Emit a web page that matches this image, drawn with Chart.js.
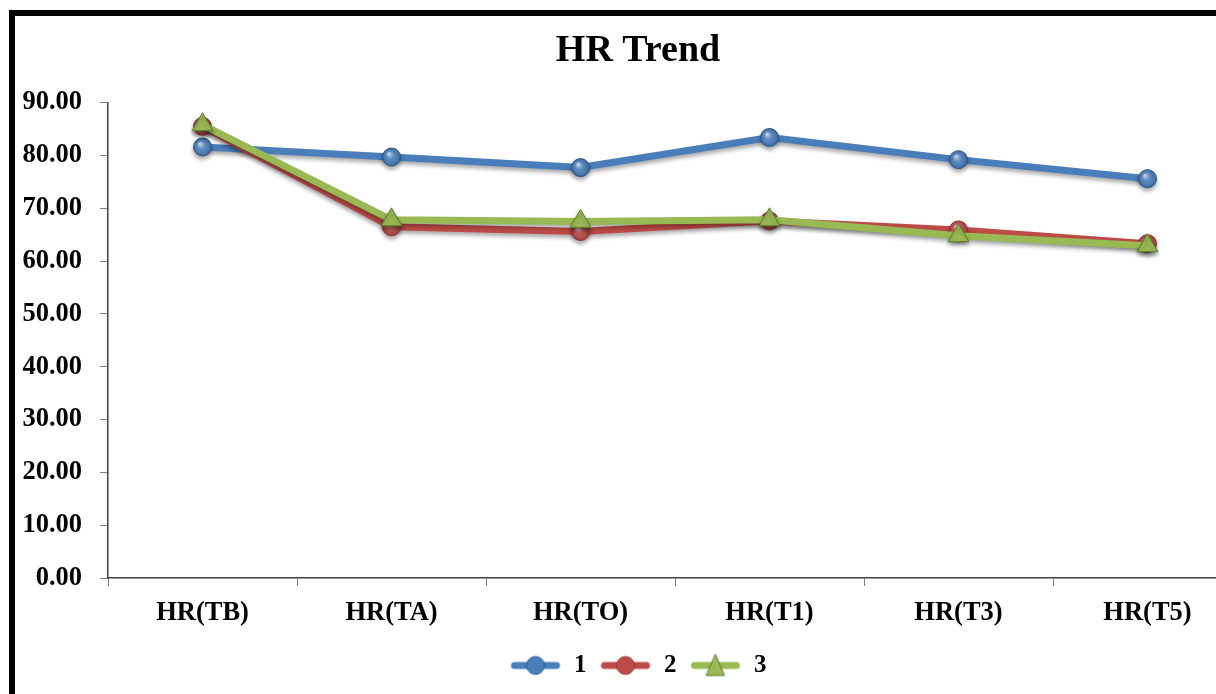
<!DOCTYPE html>
<html>
<head>
<meta charset="utf-8">
<script src="https://cdn.jsdelivr.net/npm/chart.js@4"></script>
<style>
  html, body { margin: 0; padding: 0; background: #fff; overflow: hidden; }
  #page { position: relative; width: 1216px; height: 694px; overflow: hidden; }
  #frame { position: absolute; left: 9px; top: 10px; border-left: 6px solid #000; border-top: 6px solid #000; width: 1246px; height: 690px; background: #fff; }
</style>
</head>
<body>
<div id="page"><div id="frame"><canvas id="c" width="1246" height="678"></canvas></div></div>
<script>
// HR trend, three groups
const categories = ['HR(TB)', 'HR(TA)', 'HR(TO)', 'HR(T1)', 'HR(T3)', 'HR(T5)'];
const group1 = [81.6, 79.7, 77.7, 83.4, 79.2, 75.6];
const group2 = [85.5, 66.5, 65.6, 67.6, 65.9, 63.3];
const group3 = [85.8, 67.8, 67.5, 67.8, 64.8, 62.9];
const seriesNames = ['1', '2', '3'];
const yTicks = [0, 10, 20, 30, 40, 50, 60, 70, 80, 90];

const colors = ['#4a7ebb', '#be4b48', '#98b954'];
const dark = ['#2c5d97', '#943634', '#5f7a2a'];

function legendIcon(i, style) {
  const cv = document.createElement('canvas');
  cv.width = 52; cv.height = 24;
  const g = cv.getContext('2d');
  g.strokeStyle = colors[i]; g.lineWidth = 7; g.lineCap = 'round';
  g.beginPath(); g.moveTo(5, 12); g.lineTo(47, 12); g.stroke();
  g.fillStyle = colors[i]; g.strokeStyle = dark[i]; g.lineWidth = 1;
  g.beginPath();
  if (style === 'triangle') { g.moveTo(26, 1); g.lineTo(35, 22); g.lineTo(17, 22); g.closePath(); }
  else g.arc(26, 12, 9, 0, Math.PI * 2);
  g.fill(); g.stroke();
  return cv;
}

const shadow = {
  id: 'shadow',
  beforeDatasetDraw(chart) {
    const c = chart.ctx; c.save();
    c.shadowColor = 'rgba(0,0,0,0.35)'; c.shadowBlur = 4; c.shadowOffsetY = 3;
  },
  afterDatasetDraw(chart, args) {
    const c = chart.ctx; c.restore();
    // glossy highlight on round markers
    if (styles[args.index] !== 'circle') return;
    args.meta.data.forEach(p => {
      const r = p.options.radius;
      const g = c.createRadialGradient(p.x - r * 0.3, p.y - r * 0.4, 0, p.x, p.y, r);
      g.addColorStop(0, 'rgba(255,255,255,0.75)');
      g.addColorStop(0.45, 'rgba(255,255,255,0.1)');
      g.addColorStop(1, 'rgba(0,0,0,0.15)');
      c.save(); c.fillStyle = g; c.beginPath(); c.arc(p.x, p.y, r, 0, Math.PI * 2); c.fill(); c.restore();
    });
  }
};

const serif = 'Liberation Serif';
const styles = ['circle', 'circle', 'triangle'];
const values = [group1, group2, group3];

new Chart(document.getElementById('c'), {
  type: 'line',
  data: {
    labels: categories,
    datasets: values.map((v, i) => ({
      label: seriesNames[i],
      data: v,
      borderColor: colors[i],
      backgroundColor: colors[i],
      pointBorderColor: dark[i],
      pointBorderWidth: 1,
      borderWidth: 7,
      pointStyle: styles[i],
      pointRadius: styles[i] === 'triangle' ? 12 : 9,
      order: 3 - i,
      fill: false,
      tension: 0
    }))
  },
  options: {
    responsive: false,
    animation: false,
    layout: { padding: { left: 0, right: 0, top: 0, bottom: 6 } },
    plugins: {
      tooltip: { enabled: false },
      title: {
        display: true, text: 'HR Trend', color: '#000',
        font: { family: serif, size: 38, weight: 'bold' },
        padding: { top: 12, bottom: 29 }
      },
      legend: {
        position: 'bottom',
        labels: {
          color: '#000',
          font: { family: serif, size: 25, weight: 'bold' },
          usePointStyle: true,
          pointStyleWidth: 52,
          padding: 13,
          generateLabels(chart) {
            return chart.data.datasets.map((d, i) => ({
              text: d.label, pointStyle: legendIcon(i, styles[i]),
              fontColor: '#000', lineWidth: 0, strokeStyle: 'transparent', fillStyle: 'transparent', datasetIndex: i
            }));
          }
        }
      }
    },
    scales: {
      x: {
        offset: true,
        grid: { offset: true, drawOnChartArea: false, drawTicks: true, tickLength: 8, color: '#7f7f7f' },
        border: { color: '#404040', width: 1.5 },
        ticks: { color: '#000', font: { family: serif, size: 26.5, weight: 'bold' }, padding: 11, maxRotation: 0 },
        afterFit(s) { s.height = 62; }
      },
      y: {
        min: 0, max: 90,
        afterBuildTicks(s) { s.ticks = yTicks.map(v => ({ value: v })); },
        grid: { drawOnChartArea: false, drawTicks: true, tickLength: 8, color: '#7f7f7f' },
        border: { color: '#404040', width: 1.5 },
        ticks: { color: '#000', font: { family: serif, size: 26.5, weight: 'bold' }, padding: 18, callback: v => v.toFixed(2) },
        afterFit(s) { s.width = 93; }
      },
      // empty spacer on the right so the plot runs off the right edge like the original
      spacer: {
        type: 'linear', position: 'right', min: 0, max: 90,
        grid: { display: false }, border: { display: false }, ticks: { display: false },
        afterFit(s) { s.width = 19; }
      }
    }
  },
  plugins: [shadow]
});
</script>
</body>
</html>
